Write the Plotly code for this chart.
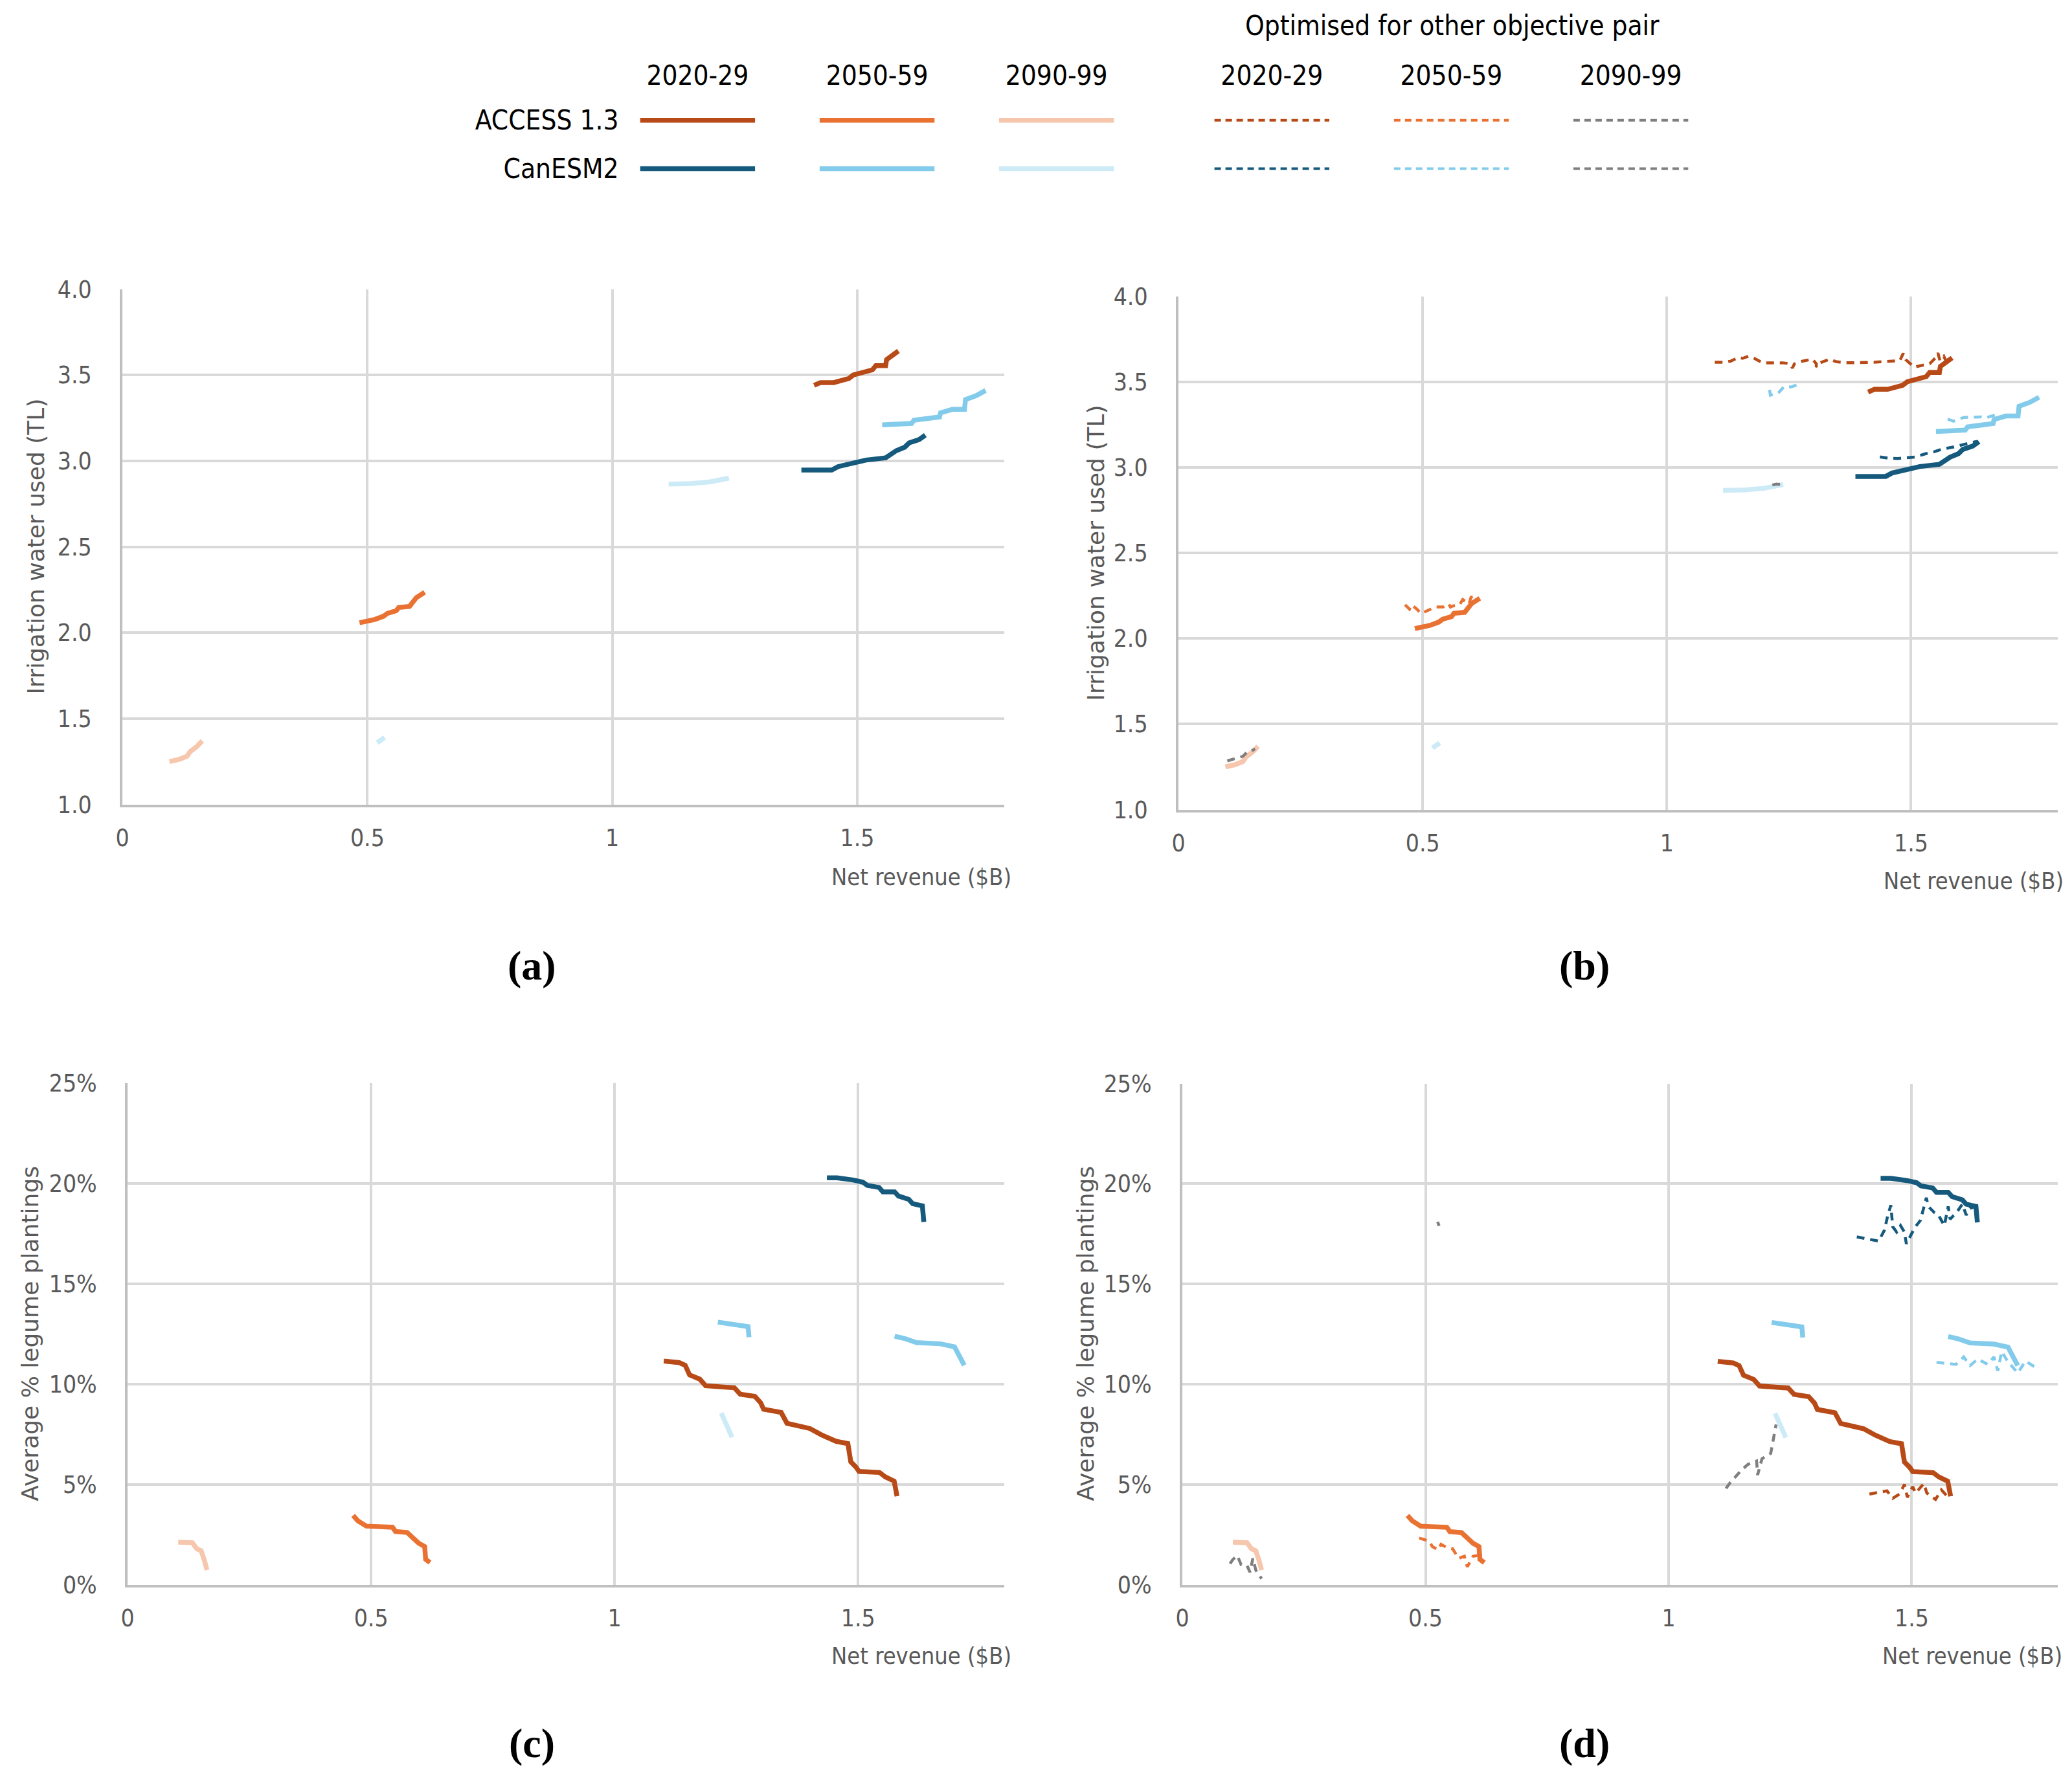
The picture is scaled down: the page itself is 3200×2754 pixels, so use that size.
import plotly.graph_objects as go

# ---- water panels (a) and (b): net revenue ($B) vs irrigation water (TL) ----
# solid lines: optimised for this objective pair
acc20_rev_w = [1.412, 1.425, 1.452, 1.483, 1.492, 1.531, 1.538, 1.558, 1.560, 1.571, 1.584]
acc20_water = [3.44, 3.456, 3.456, 3.48, 3.50, 3.53, 3.555, 3.555, 3.59, 3.61, 3.64]
acc50_rev_w = [0.484, 0.515, 0.533, 0.541, 0.559, 0.564, 0.586, 0.600, 0.617]
acc50_water = [2.058, 2.077, 2.096, 2.113, 2.128, 2.147, 2.153, 2.204, 2.235]
acc90_rev_w = [0.096, 0.116, 0.132, 0.138, 0.152, 0.163]
acc90_water = [1.25, 1.263, 1.281, 1.307, 1.338, 1.37]
can20_rev_w = [1.386, 1.448, 1.461, 1.50, 1.518, 1.558, 1.580, 1.597, 1.606, 1.626, 1.639]
can20_water = [2.947, 2.947, 2.967, 2.99, 3.005, 3.018, 3.06, 3.08, 3.105, 3.124, 3.15]
can50_rev_w = [1.551, 1.611, 1.616, 1.642, 1.668, 1.670, 1.694, 1.719, 1.721, 1.743, 1.762]
can50_water = [3.21, 3.218, 3.237, 3.25, 3.256, 3.28, 3.30, 3.30, 3.357, 3.38, 3.41]
can90_rev_w = [0.52, 0.535, None, 1.115, 1.16, 1.20, 1.238]
can90_water = [1.36, 1.39, None, 2.865, 2.868, 2.878, 2.90]

# dashed lines: optimised for the other objective pair (panel b)
acc20_alt_rev_w = [1.098, 1.118, 1.130, 1.147, 1.155, 1.167, 1.179, 1.196, 1.237, 1.253, 1.257,
                   1.261, 1.277, 1.298, 1.306, 1.306, 1.314, 1.334, 1.346, 1.367, 1.424, 1.457,
                   1.477, 1.484, 1.489, 1.506, 1.518, 1.538, 1.551, 1.555, 1.559, 1.567, 1.571, 1.583]
acc20_alt_water = [3.614, 3.614, 3.620, 3.643, 3.637, 3.649, 3.637, 3.611, 3.611, 3.605, 3.580,
                   3.605, 3.620, 3.633, 3.605, 3.586, 3.611, 3.633, 3.618, 3.611, 3.614, 3.618,
                   3.624, 3.666, 3.630, 3.586, 3.592, 3.605, 3.643, 3.668, 3.624, 3.649, 3.624, 3.637]
acc50_alt_rev_w = [0.464, 0.473, 0.477, 0.488, 0.497, 0.511, 0.526, 0.542, 0.553, 0.557, 0.562,
                   0.575, 0.582, 0.595, 0.599, 0.613]
acc50_alt_water = [2.197, 2.172, 2.197, 2.172, 2.146, 2.163, 2.184, 2.184, 2.203, 2.184, 2.19,
                   2.195, 2.228, 2.203, 2.241, 2.258]
acc90_alt_rev_w = [0.100, 0.118, 0.132, 0.141, 0.147, 0.157]
acc90_alt_water = [1.285, 1.30, 1.312, 1.338, 1.34, 1.355]
can20_alt_rev_w = [1.436, 1.452, 1.473, 1.509, 1.530, 1.546, 1.562, 1.587, 1.595, 1.620, 1.636]
can20_alt_water = [3.061, 3.054, 3.052, 3.061, 3.080, 3.090, 3.105, 3.118, 3.124, 3.143, 3.152]
can50_alt_rev_w = [1.210, 1.212, 1.228, 1.240, 1.255, 1.269, None,
                   1.575, 1.587, 1.608, 1.644, 1.652, 1.677]
can50_alt_water = [3.453, 3.422, 3.434, 3.472, 3.470, 3.485, None,
                   3.282, 3.27, 3.292, 3.295, 3.289, 3.31]
can90_alt_rev_w = [1.216, 1.224, 1.232]
can90_alt_water = [2.897, 2.902, 2.90]

# ---- legume panels (c) and (d): net revenue ($B) vs average % legume plantings ----
acc20_rev_l = [1.101, 1.133, 1.145, 1.154, 1.175, 1.187, 1.246, 1.258, 1.288, 1.300, 1.306, 1.342,
               1.354, 1.401, 1.425, 1.455, 1.479, 1.485, 1.496, 1.502, 1.544, 1.556, 1.574, 1.580]
acc20_legume = [11.14, 11.06, 10.93, 10.45, 10.24, 9.91, 9.81, 9.49, 9.38, 9.06, 8.74, 8.58,
                8.04, 7.78, 7.46, 7.14, 7.03, 6.12, 5.85, 5.64, 5.59, 5.37, 5.16, 4.41]
acc50_rev_l = [0.463, 0.473, 0.490, 0.544, 0.550, 0.574, 0.586, 0.598, 0.610, 0.612, 0.621]
acc50_legume = [3.45, 3.18, 2.92, 2.86, 2.65, 2.60, 2.33, 2.06, 1.90, 1.26, 1.10]
acc90_rev_l = [0.104, 0.133, 0.142, 0.151, 0.157, 0.163]
acc90_legume = [2.12, 2.09, 1.79, 1.69, 1.26, 0.73]
can20_rev_l = [1.436, 1.457, 1.490, 1.510, 1.519, 1.543, 1.551, 1.575, 1.583, 1.604, 1.612, 1.620,
               1.632, 1.635]
can20_legume = [20.27, 20.27, 20.16, 20.05, 19.89, 19.79, 19.57, 19.57, 19.36, 19.20, 18.98, 18.93,
                18.87, 18.07]
can50_rev_l = [1.212, 1.237, 1.274, 1.276, None, 1.575, 1.595, 1.620, 1.669, 1.698, 1.706, 1.718]
can50_legume = [13.08, 12.97, 12.86, 12.33, None, 12.38, 12.27, 12.06, 12.0, 11.85, 11.47, 10.93]
can90_rev_l = [1.219, 1.229, 1.241]
can90_legume = [8.55, 8.04, 7.34]

acc20_alt_rev_l = [1.413, 1.425, 1.449, 1.461, 1.475, 1.485, 1.491, 1.502, 1.508, 1.525, 1.531,
                   1.549, 1.561, 1.573]
acc20_alt_legume = [4.52, 4.57, 4.68, 4.31, 4.52, 5.0, 4.36, 4.89, 4.57, 5.05, 4.57, 4.25, 4.73, 4.41]
acc50_alt_rev_l = [0.487, 0.499, 0.508, 0.514, 0.526, 0.532, 0.544, 0.556, 0.562, 0.568, 0.580,
                   0.586, 0.592, 0.598, 0.610, 0.615]
acc50_alt_legume = [2.33, 2.22, 2.17, 1.90, 1.74, 2.01, 1.85, 1.79, 1.53, 1.31, 1.42, 0.89, 1.15,
                    1.42, 1.47, 1.21]
acc90_alt_rev_l = [0.098, 0.104, 0.113, 0.121, 0.133, 0.139, 0.145, 0.151, 0.157, 0.163]
acc90_alt_legume = [1.05, 1.26, 1.45, 0.99, 0.96, 0.62, 1.31, 0.73, 0.51, 0.30]
can20_alt_rev_l = [1.387, 1.399, 1.419, 1.432, 1.444, 1.450, 1.457, 1.461, 1.469, 1.477, 1.485,
                   1.489, 1.506, 1.518, 1.530, 1.534, 1.547, 1.555, 1.567, 1.575, 1.579, 1.595,
                   1.604, 1.612, 1.620, 1.632]
can20_alt_legume = [17.35, 17.29, 17.18, 17.14, 17.69, 18.34, 18.93, 17.85, 17.59, 17.91, 17.59,
                    17.0, 17.8, 18.18, 19.30, 18.87, 18.55, 18.44, 17.91, 18.87, 18.23, 18.66,
                    18.98, 18.44, 18.77, 18.87]
can50_alt_rev_l = [1.551, 1.567, 1.591, 1.607, 1.620, 1.636, 1.656, 1.669, 1.677, 1.685, 1.697,
                   1.718, 1.734, 1.754]
can50_alt_legume = [11.09, 11.04, 10.99, 11.36, 10.93, 11.26, 10.99, 11.36, 10.67, 11.63, 11.15,
                    10.56, 11.15, 10.85]
can90_alt_rev_l = [0.525, 0.528, None, 1.118, 1.127, 1.139, 1.149, 1.163, 1.169, 1.181, 1.183,
                   1.192, 1.210, 1.213, 1.215, 1.221]
can90_alt_legume = [18.1, 17.9, None, 4.80, 5.1, 5.42, 5.69, 6.0, 6.06, 6.17, 5.47, 6.28, 6.55,
                    6.97, 7.35, 7.99]

# ---- legend grid ----
models = ['ACCESS 1.3', 'CanESM2']
periods = ['2020-29', '2050-59', '2090-99']

DARK_ORANGE = '#B84A17'
ORANGE = '#E97132'
PEACH = '#F6C6AD'
DARK_BLUE = '#155A7D'
LIGHT_BLUE = '#83CBEB'
PALE_BLUE = '#CDEBF7'
GRAY = '#7F7F7F'

solid_colors = [[DARK_ORANGE, ORANGE, PEACH], [DARK_BLUE, LIGHT_BLUE, PALE_BLUE]]
dash_colors = [[DARK_ORANGE, ORANGE, GRAY], [DARK_BLUE, LIGHT_BLUE, GRAY]]

TICK_FONT = 'Liberation Sans Narrow, DejaVu Sans Condensed, Roboto Condensed, Arial Narrow, sans-serif'
TITLE_FONT = 'DejaVu Sans, Verdana, sans-serif'
SOLID_W = 7.5
DASH_W = 4.5
DASH = '12px,9px'

W, H = 3200, 2754


# reference pixel -> paper fraction (small correction for page offset / scaling)
def fx(p):
    return ((p - 14) / 0.996) / W


def fy(p):
    return 1 - ((p - 28.4) / 0.9868) / H


fig = go.Figure()


def add_line(x, y, color, axis, dashed=False):
    fig.add_trace(go.Scatter(
        x=x, y=y, mode='lines', xaxis='x' + axis, yaxis='y' + axis,
        line=dict(color=color, width=DASH_W if dashed else SOLID_W,
                  dash=DASH if dashed else 'solid'),
        connectgaps=False, hoverinfo='skip'))


water_solid = [
    (acc20_rev_w, acc20_water, DARK_ORANGE), (acc50_rev_w, acc50_water, ORANGE),
    (acc90_rev_w, acc90_water, PEACH), (can20_rev_w, can20_water, DARK_BLUE),
    (can50_rev_w, can50_water, LIGHT_BLUE), (can90_rev_w, can90_water, PALE_BLUE)]
water_dash = [
    (acc20_alt_rev_w, acc20_alt_water, DARK_ORANGE), (acc50_alt_rev_w, acc50_alt_water, ORANGE),
    (acc90_alt_rev_w, acc90_alt_water, GRAY), (can20_alt_rev_w, can20_alt_water, DARK_BLUE),
    (can50_alt_rev_w, can50_alt_water, LIGHT_BLUE), (can90_alt_rev_w, can90_alt_water, GRAY)]
legume_solid = [
    (acc20_rev_l, acc20_legume, DARK_ORANGE), (acc50_rev_l, acc50_legume, ORANGE),
    (acc90_rev_l, acc90_legume, PEACH), (can20_rev_l, can20_legume, DARK_BLUE),
    (can50_rev_l, can50_legume, LIGHT_BLUE), (can90_rev_l, can90_legume, PALE_BLUE)]
legume_dash = [
    (acc20_alt_rev_l, acc20_alt_legume, DARK_ORANGE), (acc50_alt_rev_l, acc50_alt_legume, ORANGE),
    (acc90_alt_rev_l, acc90_alt_legume, GRAY), (can20_alt_rev_l, can20_alt_legume, DARK_BLUE),
    (can50_alt_rev_l, can50_alt_legume, LIGHT_BLUE), (can90_alt_rev_l, can90_alt_legume, GRAY)]

for x, y, c in water_solid:
    add_line(x, y, c, '')
for x, y, c in water_solid:
    add_line(x, y, c, '2')
for x, y, c in water_dash:
    add_line(x, y, c, '2', dashed=True)
for x, y, c in legume_solid:
    add_line(x, y, c, '3')
for x, y, c in legume_solid:
    add_line(x, y, c, '4')
for x, y, c in legume_dash:
    add_line(x, y, c, '4', dashed=True)

# legend drawn as a small grid on its own hidden axes
col_pos = [0, 1, 2, 3.2, 4.2, 5.2]
half = 0.32
for r, model in enumerate(models):
    for c in range(3):
        for k, dashed in ((c, False), (c + 3, True)):
            color = dash_colors[r][c] if dashed else solid_colors[r][c]
            fig.add_trace(go.Scatter(
                x=[col_pos[k] - half, col_pos[k] + half], y=[r, r], mode='lines',
                xaxis='x5', yaxis='y5', hoverinfo='skip',
                line=dict(color=color, width=4 if dashed else 7.5,
                          dash='10px,7px' if dashed else 'solid')))

tickfont = dict(family=TICK_FONT, size=37, color='#595959')


def xax(left, right, anchor):
    return dict(domain=[fx(left), fx(right)], anchor=anchor, range=[0, 1.8], tick0=0, dtick=0.5,
                showgrid=True, gridcolor='#D9D9D9', gridwidth=4, zeroline=False,
                showline=True, linecolor='#BFBFBF', linewidth=4, ticks='',
                tickfont=tickfont, ticklabelstandoff=16, fixedrange=True)


def yax(top, bottom, anchor, rng, dtick, fmt, suffix=''):
    return dict(domain=[fy(bottom), fy(top)], anchor=anchor, range=rng, dtick=dtick,
                tickformat=fmt, ticksuffix=suffix, showgrid=True, gridcolor='#D9D9D9',
                gridwidth=4, zeroline=False, showline=True, linecolor='#BFBFBF', linewidth=4,
                ticks='', tickfont=tickfont, ticklabelstandoff=36, fixedrange=True)


legend_font = dict(family=TICK_FONT, size=42, color='black')

fig.update_layout(
    width=W, height=H, showlegend=False,
    paper_bgcolor='white', plot_bgcolor='white',
    margin=dict(l=0, r=0, t=0, b=0),
    xaxis=xax(184, 1545, 'y'),
    yaxis=yax(447, 1245, 'x', [1, 4], 0.5, '.1f'),
    xaxis2=xax(1814, 3171, 'y2'),
    yaxis2=yax(458, 1253, 'x2', [1, 4], 0.5, '.1f'),
    xaxis3=xax(192, 1545, 'y3'),
    yaxis3=yax(1676, 2453, 'x3', [0, 25], 5, 'd', '%'),
    xaxis4=xax(1820, 3171, 'y4'),
    yaxis4=yax(1677, 2453, 'x4', [0, 25], 5, 'd', '%'),
    xaxis5=dict(domain=[fx(961), fx(2623)], anchor='y5', range=[-0.4, 5.6], side='top',
                tickvals=col_pos, ticktext=periods * 2, showgrid=False, zeroline=False,
                showline=False, ticks='', ticklabelstandoff=8, tickfont=legend_font,
                fixedrange=True),
    yaxis5=dict(domain=[fy(298), fy(148)], anchor='x5', range=[1.5, -0.5],
                tickvals=[0, 1], ticktext=models, showgrid=False, zeroline=False,
                showline=False, ticks='', ticklabelstandoff=10, tickfont=legend_font,
                fixedrange=True),
)

annotations = [
    dict(text='Optimised for other objective pair', x=fx(2237), y=fy(39),
         font=legend_font, xanchor='center'),
]
for x, y in ((1558, 1357), (3182, 1363), (1558, 2563), (3180, 2563)):
    annotations.append(dict(text='Net revenue ($B)', x=fx(x), y=fy(y), xanchor='right',
                            font=dict(family=TICK_FONT, size=36, color='#595959')))
for text, x, y in (('Irrigation water used (TL)', 51, 846),
                   ('Irrigation water used (TL)', 1687, 855),
                   ('Average % legume plantings', 42, 2064),
                   ('Average % legume plantings', 1671, 2064)):
    annotations.append(dict(text=text, x=fx(x), y=fy(y), textangle=-90, xanchor='center',
                            font=dict(family=TITLE_FONT, size=36, color='#595959')))
for text, x, y in (('(a)', 816, 1494), ('(b)', 2441, 1494),
                   ('(c)', 816, 2698), ('(d)', 2441, 2698)):
    annotations.append(dict(text='<b>' + text + '</b>', x=fx(x), y=fy(y), xanchor='center',
                            font=dict(family='Liberation Serif, DejaVu Serif, serif',
                                      size=64, color='black')))
for a in annotations:
    a.update(xref='paper', yref='paper', showarrow=False, yanchor='middle')
fig.update_layout(annotations=annotations)

fig.write_html("out.html")
